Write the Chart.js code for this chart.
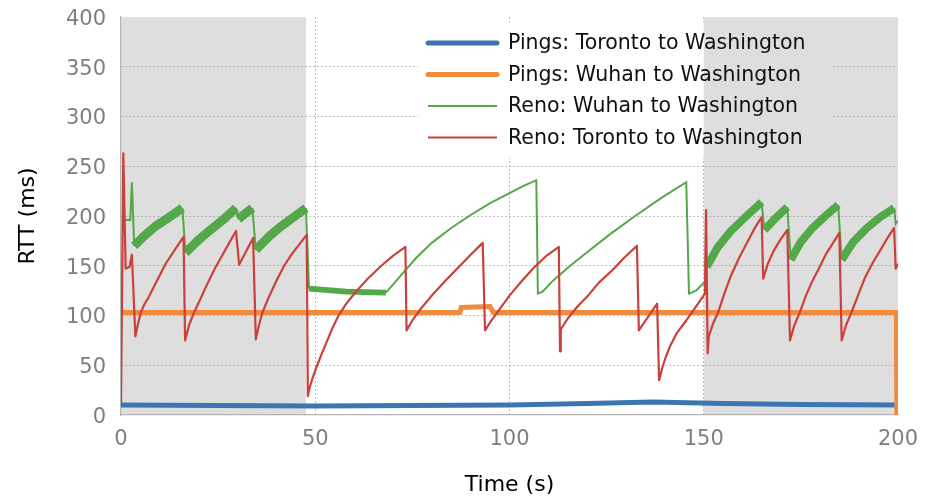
<!DOCTYPE html>
<html>
<head>
<meta charset="utf-8">
<script src="https://cdn.jsdelivr.net/npm/chart.js@4.4.1/dist/chart.umd.min.js"></script>
<style>
  html, body { margin: 0; padding: 0; background: #ffffff; }
  #wrap { width: 926px; height: 498px; }
</style>
</head>
<body>
<div id="wrap"><canvas id="rtt" width="926" height="498"></canvas></div>
<script>
// ---- series data: [time (s), RTT (ms)] ----
const seriesNames = [
  'Pings: Toronto to Washington',
  'Pings: Wuhan to Washington',
  'Reno: Wuhan to Washington',
  'Reno: Toronto to Washington'
];

const pingToronto = [
  [0, 10], [25, 9.5], [50, 9], [75, 9.5], [100, 10], [120, 11.5],
  [137, 13], [155, 11.5], [175, 10.5], [200, 10]
];

const pingWuhan = [
  [0, 103], [87.2, 103], [87.6, 108], [95.0, 109], [95.8, 103],
  [199.6, 103], [199.7, 0]
];

// third value: spread of the RTT samples around the trace (ms)
const renoWuhan = [
  [0.8, 196, 0], [2.4, 196, 0], [2.8, 234, 0], [3.4, 170, 9], [6, 180, 9], [9, 190, 9],
  [12.5, 199, 9], [15.8, 208, 0], [16.6, 163, 9], [20, 176, 9], [23, 186, 9], [26.5, 197, 9],
  [29.6, 208, 0], [30.2, 197, 9], [33.8, 208, 0], [34.7, 166, 9], [38, 179, 9], [41, 189, 9],
  [44.5, 199, 9], [47.6, 208, 0], [48.4, 127, 6], [58, 124, 6], [68.2, 123, 2],
  [72, 140, 2], [76, 158, 2], [80, 173, 2], [85, 188, 2], [90, 201, 2], [95, 213, 2],
  [100, 223, 2], [103.5, 230, 2], [106.9, 236, 0], [107.3, 122, 0], [108.5, 124, 2],
  [111.2, 135, 2], [115, 148, 2], [119.8, 163, 2], [126, 182, 2], [132.7, 201, 2],
  [139, 218, 2], [145.5, 234, 0], [146.2, 122, 0], [148, 125, 0], [150.3, 134, 0],
  [150.8, 149, 8], [153.5, 168, 8], [157, 185, 8], [161, 200, 8], [164.9, 214, 0],
  [165.6, 186, 8], [168.5, 198, 8], [171.5, 209, 0], [172.4, 156, 8], [175, 174, 8],
  [178, 188, 8], [181.3, 200, 8], [184.6, 211, 0], [185.5, 156, 8], [188.5, 174, 8],
  [192, 188, 8], [195.5, 199, 8], [199, 208, 0], [199.4, 192, 0], [200, 195, 0]
];

const renoToronto = [
  [0, 10], [0.6, 263], [1.2, 147], [2.2, 149], [2.8, 161], [3.7, 79],
  [4.4, 92], [5.1, 103], [6, 111], [7.2, 119], [9, 133], [11.5, 152], [14, 167], [16.1, 179],
  [16.5, 75], [17.5, 90], [18.8, 103], [20.5, 117], [22, 130], [24, 146], [26, 160],
  [28, 174], [29.6, 185], [30.4, 151], [34.0, 178], [34.7, 76],
  [35.5, 90], [36.4, 103], [38, 118], [40, 135], [42, 150], [44, 162], [46, 172], [47.8, 181],
  [48.1, 19], [48.6, 28], [49.3, 37], [50.3, 48], [51.5, 60], [53, 74], [54.5, 88],
  [56, 100], [58, 112], [60.5, 124], [63.5, 137], [67, 150], [70, 160], [73.2, 169],
  [73.5, 85], [75, 95], [77, 106], [80, 120], [83.5, 135], [87, 149], [90, 161], [93.1, 173],
  [93.7, 85], [95, 93], [97, 104], [100, 120], [103, 134], [106, 147], [109.5, 160], [112.7, 169],
  [113.0, 64], [113.2, 86], [115, 97], [117.5, 109], [120, 119], [123, 133], [126.6, 146],
  [129.5, 158], [132.8, 170], [133.3, 85], [138, 112],
  [138.5, 35], [139.3, 47], [140.2, 58], [141.2, 68], [143, 82], [145.5, 95], [148, 109],
  [150.3, 122], [150.6, 206], [151.0, 62],
  [151.3, 79], [152.4, 92], [153.7, 103], [155.3, 122], [157, 140], [159, 157], [161, 172],
  [163, 187], [164.9, 199], [165.3, 137], [166.5, 152], [168, 165], [169.7, 176], [171.5, 186],
  [172.2, 75], [173.3, 90], [174.7, 103], [176.3, 120], [178, 135], [180, 150], [181.5, 162],
  [183.3, 173], [184.9, 183], [185.5, 75], [186.6, 90], [188, 103], [189.7, 120], [191.5, 138],
  [193.5, 153], [195.5, 166], [197.3, 178], [199, 188], [199.4, 147], [200, 152]
];

// time windows highlighted in grey (s)
const shadedSpans = [[0, 47.6], [150, 200]];

// axis ticks
const xTicks = [0, 50, 100, 150, 200];
const yTicks = [0, 50, 100, 150, 200, 250, 300, 350, 400];

// ---- styling ----
const COLORS = ['#3b76b1', '#f08a3c', '#53a849', '#c9413a'];
const WIDTHS = [5, 5, 2, 2.2];
const SHADE = '#dedede';
const FONT = 'DejaVu Sans';

const toXY = pts => pts.map(p => ({ x: p[0], y: p[1] }));

let pxPerMs = 1;

const shadePlugin = {
  id: 'shade',
  afterLayout(chart) {
    const y = chart.scales.y;
    pxPerMs = Math.abs(y.getPixelForValue(0) - y.getPixelForValue(1));
  },
  beforeDraw(chart) {
    const { ctx, chartArea: a, scales: { x } } = chart;
    ctx.save();
    ctx.fillStyle = SHADE;
    for (const [t0, t1] of shadedSpans) {
      const x0 = x.getPixelForValue(t0), x1 = x.getPixelForValue(t1);
      ctx.fillRect(x0, a.top, x1 - x0, a.bottom - a.top);
    }
    ctx.restore();
  }
};

// legend box in the upper right of the plot
const LEG = { left: 418, right: 832, top: 22, bottom: 158, lineX0: 428, lineX1: 497, textX: 508, rowY: [43, 74.5, 106, 137.5] };

const legendPlugin = {
  id: 'boxLegend',
  beforeDatasetsDraw(chart) {
    const { ctx, chartArea: a, scales: { x } } = chart;
    const top = Math.max(LEG.top, a.top);
    ctx.save();
    ctx.fillStyle = '#ffffff';
    ctx.fillRect(LEG.left, top, LEG.right - LEG.left, LEG.bottom - top);
    ctx.fillStyle = SHADE;
    for (const [t0, t1] of shadedSpans) {
      const x0 = Math.max(LEG.left, x.getPixelForValue(t0));
      const x1 = Math.min(LEG.right, x.getPixelForValue(t1));
      if (x1 > x0) ctx.fillRect(x0, top, x1 - x0, LEG.bottom - top);
    }
    ctx.restore();
  },
  afterDatasetsDraw(chart) {
    const ctx = chart.ctx;
    ctx.save();
    ctx.font = '20.5px "' + FONT + '"';
    ctx.textBaseline = 'middle';
    ctx.textAlign = 'left';
    seriesNames.forEach((name, i) => {
      const y = LEG.rowY[i];
      ctx.strokeStyle = COLORS[i];
      ctx.lineWidth = WIDTHS[i];
      ctx.lineCap = WIDTHS[i] > 3 ? 'round' : 'butt';
      ctx.beginPath();
      ctx.moveTo(LEG.lineX0, y);
      ctx.lineTo(LEG.lineX1, y);
      ctx.stroke();
      ctx.fillStyle = '#111111';
      ctx.fillText(name, LEG.textX, y + 1);
    });
    ctx.restore();
  }
};

const baseLine = i => ({
  label: seriesNames[i],
  borderColor: COLORS[i],
  backgroundColor: COLORS[i],
  borderWidth: WIDTHS[i],
  pointRadius: 0,
  tension: 0,
  fill: false,
  borderJoinStyle: 'round'
});

const datasets = [
  Object.assign(baseLine(0), { data: toXY(pingToronto), order: 3 }),
  Object.assign(baseLine(1), { data: toXY(pingWuhan), order: 2, borderJoinStyle: 'miter' }),
  Object.assign(baseLine(2), {
    data: toXY(renoWuhan), order: 1, borderJoinStyle: 'miter', borderCapStyle: 'butt',
    segment: {
      borderWidth: c => Math.max(WIDTHS[2], renoWuhan[c.p0DataIndex][2] * pxPerMs)
    }
  }),
  Object.assign(baseLine(3), { data: toXY(renoToronto), order: 0 })
];

const gridColor = (ctx, hidden) =>
  hidden.includes(ctx.tick && ctx.tick.value) ? 'rgba(0,0,0,0)' : 'rgba(140,140,140,0.55)';

new Chart(document.getElementById('rtt'), {
  type: 'line',
  data: { datasets },
  plugins: [shadePlugin, legendPlugin],
  options: {
    responsive: false,
    animation: false,
    events: [],
    layout: { padding: { left: 0, right: 28, top: 17, bottom: 0 } },
    plugins: { legend: { display: false }, tooltip: { enabled: false } },
    scales: {
      x: {
        type: 'linear', min: 0, max: 200,
        afterBuildTicks: s => { s.ticks = xTicks.map(v => ({ value: v })); },
        afterFit: s => { s.height = 83; s.paddingLeft = 0; s.paddingRight = 0; },
        grid: { drawTicks: false, lineWidth: 1, color: c => gridColor(c, [0, 200]) },
        border: { display: true, color: '#b4b4b4', width: 1.2, dash: [2, 2] },
        ticks: { color: '#7f7f7f', padding: 12, font: { family: FONT, size: 21 } },
        title: { display: true, text: 'Time (s)', color: '#000000',
                 font: { family: FONT, size: 22, lineHeight: 1.2 }, padding: { top: 0, bottom: 0 } }
      },
      y: {
        type: 'linear', min: 0, max: 400,
        afterBuildTicks: s => { s.ticks = yTicks.map(v => ({ value: v })); },
        afterFit: s => { s.width = 121; s.paddingTop = 0; s.paddingBottom = 0; },
        grid: { drawTicks: false, lineWidth: 1, color: c => gridColor(c, [0, 400]) },
        border: { display: true, color: '#b4b4b4', width: 1.2, dash: [2, 2] },
        ticks: { color: '#7f7f7f', padding: 15, labelOffset: 2.5, font: { family: FONT, size: 21 } },
        title: { display: true, text: 'RTT (ms)', color: '#000000',
                 font: { family: FONT, size: 22, lineHeight: 1.2 }, padding: { top: 15, bottom: 0 } }
      }
    }
  }
});
</script>
</body>
</html>
